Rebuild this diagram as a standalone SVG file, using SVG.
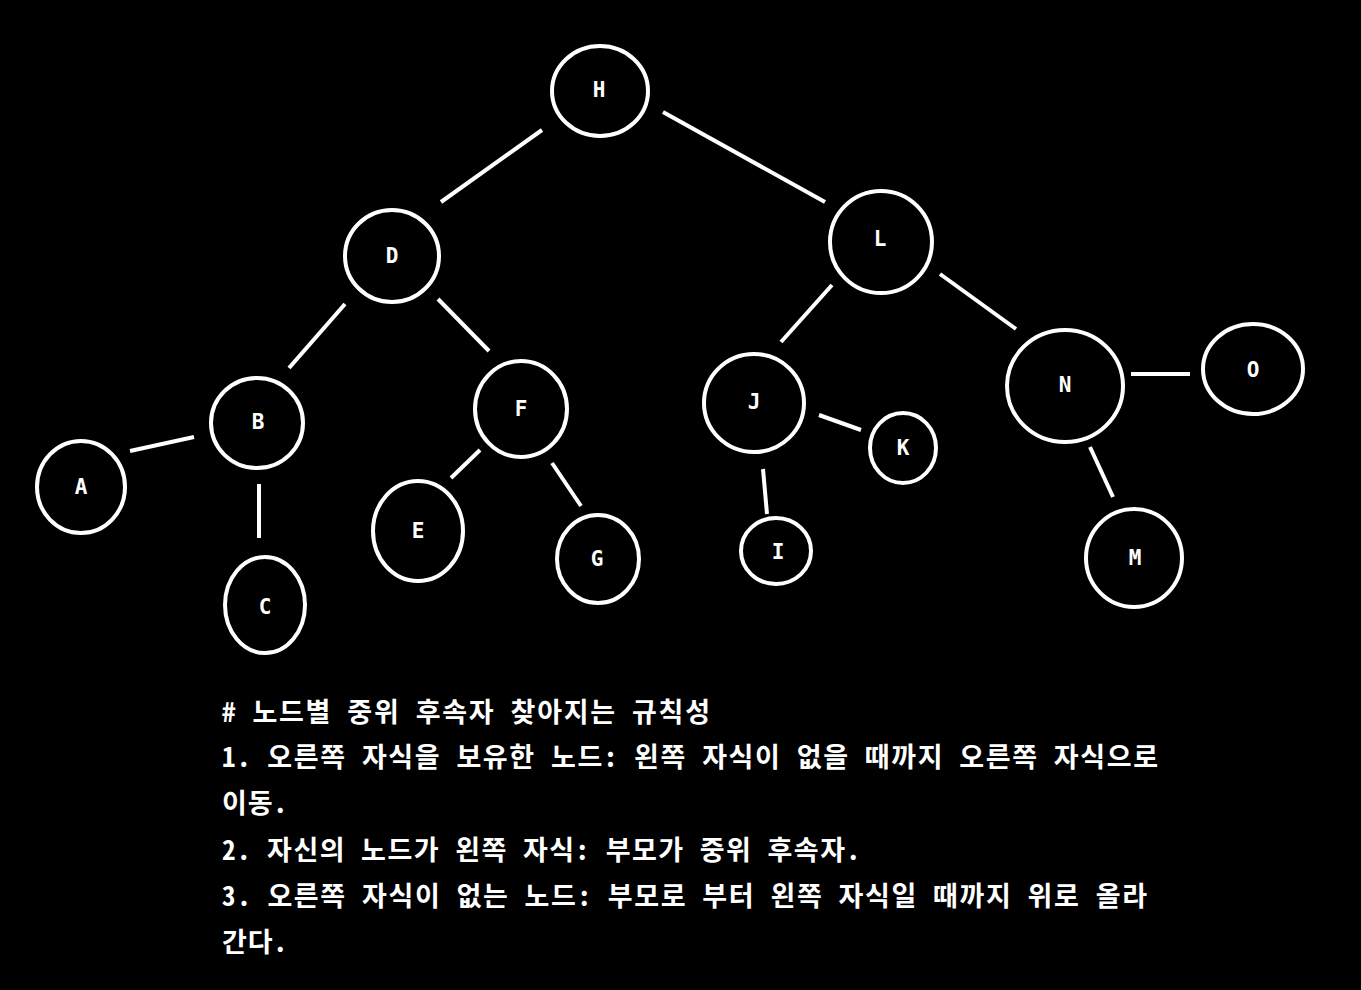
<svg xmlns="http://www.w3.org/2000/svg" width="1361" height="990" viewBox="0 0 1361 990">
<style>
.n ellipse{fill:none;stroke:#fff;stroke-width:4}
.n text{fill:#fff;font-family:"DejaVu Sans Mono","Liberation Mono",monospace;font-weight:bold;font-size:21px;text-anchor:middle}
#edges line{stroke:#fff;stroke-width:4;stroke-linecap:butt}
.t{fill:#fff;font-family:"Noto Sans Mono CJK KR","DejaVu Sans Mono","Noto Sans CJK KR",monospace;font-weight:bold;font-size:27px}
</style>
<rect width="1361" height="990" fill="#000"/>
<g id="edges">
<line x1="542" y1="130" x2="441" y2="202"/>
<line x1="663" y1="112" x2="825" y2="202"/>
<line x1="345" y1="304" x2="289" y2="368"/>
<line x1="438" y1="299" x2="489" y2="351"/>
<line x1="194" y1="437" x2="130" y2="451"/>
<line x1="259" y1="484" x2="259" y2="538"/>
<line x1="480" y1="450" x2="451" y2="478"/>
<line x1="552" y1="463" x2="581" y2="506"/>
<line x1="832" y1="285" x2="781" y2="342"/>
<line x1="940" y1="274" x2="1016" y2="329"/>
<line x1="819" y1="415" x2="861" y2="430"/>
<line x1="763" y1="469" x2="767" y2="514"/>
<line x1="1131" y1="374" x2="1190" y2="374"/>
<line x1="1090" y1="447" x2="1113" y2="497"/>
</g>
<g id="node-H" class="n"><ellipse cx="600" cy="91" rx="48" ry="45"/><text x="599" y="97">H</text></g>
<g id="node-D" class="n"><ellipse cx="392" cy="256" rx="47" ry="46"/><text x="392" y="263">D</text></g>
<g id="node-L" class="n"><ellipse cx="881" cy="242" rx="51" ry="51"/><text x="880" y="246">L</text></g>
<g id="node-B" class="n"><ellipse cx="257" cy="423" rx="46" ry="45"/><text x="258" y="429">B</text></g>
<g id="node-F" class="n"><ellipse cx="521" cy="409" rx="46" ry="48"/><text x="521" y="416">F</text></g>
<g id="node-J" class="n"><ellipse cx="754" cy="403" rx="50" ry="49"/><text x="754" y="409">J</text></g>
<g id="node-K" class="n"><ellipse cx="903" cy="448" rx="33" ry="35"/><text x="903" y="455">K</text></g>
<g id="node-N" class="n"><ellipse cx="1065" cy="386" rx="58" ry="56"/><text x="1065" y="392">N</text></g>
<g id="node-O" class="n"><ellipse cx="1253" cy="369" rx="50" ry="45"/><text x="1253" y="377">O</text></g>
<g id="node-A" class="n"><ellipse cx="81" cy="487" rx="44" ry="46"/><text x="81" y="494">A</text></g>
<g id="node-C" class="n"><ellipse cx="265" cy="605" rx="40" ry="48"/><text x="265" y="614">C</text></g>
<g id="node-E" class="n"><ellipse cx="418" cy="531" rx="45" ry="50"/><text x="418" y="538">E</text></g>
<g id="node-G" class="n"><ellipse cx="598" cy="559" rx="41" ry="44"/><text x="597" y="566">G</text></g>
<g id="node-I" class="n"><ellipse cx="776" cy="551" rx="35" ry="33"/><text x="778" y="559">I</text></g>
<g id="node-M" class="n"><ellipse cx="1134" cy="558" rx="48" ry="49"/><text x="1135" y="565">M</text></g>
<g id="notes">
<text class="t" x="222" y="722" textLength="488" lengthAdjust="spacing"># 노드별 중위 후속자 찾아지는 규칙성</text>
<text class="t" x="222" y="767" textLength="936" lengthAdjust="spacing">1. 오른쪽 자식을 보유한 노드: 왼쪽 자식이 없을 때까지 오른쪽 자식으로</text>
<text class="t" x="222" y="813" textLength="65" lengthAdjust="spacing">이동.</text>
<text class="t" x="222" y="860" textLength="638" lengthAdjust="spacing">2. 자신의 노드가 왼쪽 자식: 부모가 중위 후속자.</text>
<text class="t" x="222" y="906" textLength="925" lengthAdjust="spacing">3. 오른쪽 자식이 없는 노드: 부모로 부터 왼쪽 자식일 때까지 위로 올라</text>
<text class="t" x="222" y="952" textLength="65" lengthAdjust="spacing">간다.</text>
</g>
</svg>
